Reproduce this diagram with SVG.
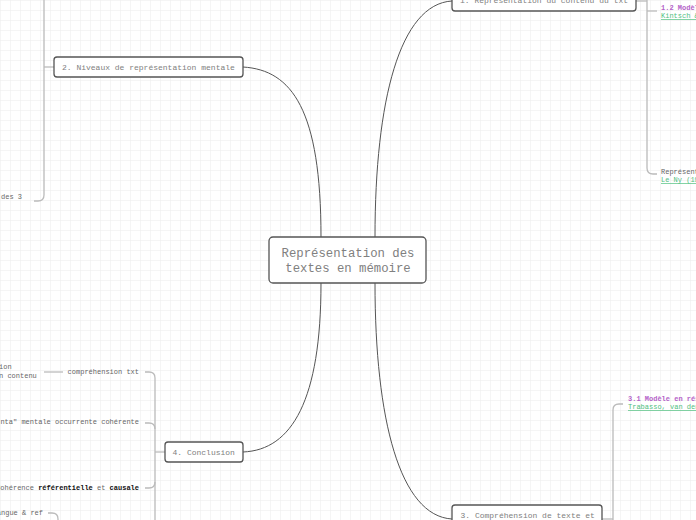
<svg xmlns="http://www.w3.org/2000/svg" width="696" height="520" viewBox="0 0 696 520">
<defs>
<pattern id="grid" width="10" height="10" patternUnits="userSpaceOnUse">
<path d="M10 0 L0 0 0 10" fill="none" stroke="#ececec" stroke-width="1"/>
</pattern>
<style>
.node rect{fill:#fff;stroke:#555;stroke-width:1.3}
.ntext{font-family:"Liberation Mono","DejaVu Sans Mono",monospace;fill:#808080}
.ctext{font-family:"Liberation Mono","DejaVu Sans Mono",monospace;font-size:7px;fill:#666}
.conn{fill:none;stroke:#555;stroke-width:1}
.br{fill:none;stroke:#bbb;stroke-width:1.3}
.purple{fill:#b462c8;font-weight:bold}
.green{fill:#4fc07f;text-decoration:underline}
.b{font-weight:bold;fill:#111}
</style>
</defs>
<rect width="696" height="520" fill="#fff"/>
<rect width="696" height="520" fill="url(#grid)"/>

<g id="connectors">
<path class="conn" d="M321,237 C321,110 292,70 243,67"/>
<path class="conn" d="M375,237 C375,100 400,4 452,1"/>
<path class="conn" d="M375,283 C375,420 400,516 452,519"/>
<path class="conn" d="M321,283 C321,400 292,450 243,452"/>
<path class="br" d="M54,67 H44"/>
<path class="br" d="M44,-5 V195 Q44,201 38,201 H34"/>
<path class="br" d="M636,1 H647"/>
<path class="br" d="M647,-5 V168 Q647,174 653,174 H657"/>
<path class="br" d="M647,11 H657"/>
<path class="br" d="M602,519 H613"/>
<path class="br" d="M613,525 V410 Q613,404 619,404 H623"/>
<path class="br" d="M165,452 H155"/>
<path class="br" d="M145,372 H149 Q155,372 155,378 V525"/>
<path class="br" d="M145,423 H149 Q155,423 155,429"/>
<path class="br" d="M145,488 H149 Q155,488 155,482"/>
<path class="br" d="M44,372 H63"/>
<path class="br" d="M48,513 H52 Q58,513 58,519 V525"/>
</g>

<g id="center" class="node">
<rect x="269" y="237" width="157" height="46" rx="4"/>
<text class="ntext" x="348" y="257" font-size="12.3" text-anchor="middle">Représentation des</text>
<text class="ntext" x="348" y="272" font-size="12.3" text-anchor="middle">textes en mémoire</text>
</g>

<g id="node1" class="node">
<rect x="452" y="-10" width="184" height="21" rx="3"/>
<text class="ntext" x="460" y="3" font-size="8">1. Représentation du contenu du txt</text>
</g>
<g id="node1-children">
<text class="ctext purple" x="661" y="10">1.2 Modèle</text>
<text class="ctext green" x="661" y="18">Kintsch &amp;</text>
<text class="ctext" x="661" y="174">Représentation</text>
<text class="ctext green" x="661" y="182">Le Ny (19</text>
</g>

<g id="node2" class="node">
<rect x="54" y="57" width="189" height="20" rx="3"/>
<text class="ntext" x="62" y="70" font-size="8">2. Niveaux de représentation mentale</text>
</g>
<g id="node2-children">
<text class="ctext" x="1" y="199">des 3</text>
</g>

<g id="node3" class="node">
<rect x="452" y="505" width="150" height="30" rx="3"/>
<text class="ntext" x="460.5" y="518" font-size="8">3. Compréhension de texte et</text>
</g>
<g id="node3-children">
<text class="ctext purple" x="628" y="401">3.1 Modèle en réseau</text>
<text class="ctext green" x="628" y="409">Trabasso, van den Broek</text>
</g>

<g id="node4" class="node">
<rect x="165" y="442" width="78" height="20" rx="3"/>
<text class="ntext" x="172.5" y="455" font-size="8">4. Conclusion</text>
</g>
<g id="node4-children">
<text class="ctext" x="139" y="374" text-anchor="end">compréhension txt</text>
<text class="ctext" x="-1" y="369">ion</text>
<text class="ctext" x="-1" y="378">n contenu</text>
<text class="ctext" x="139" y="424" text-anchor="end">nta" mentale occurrente cohérente</text>
<text class="ctext" x="139" y="490" text-anchor="end">Cohérence <tspan class="b">référentielle</tspan> et <tspan class="b">causale</tspan></text>
<text class="ctext" x="43" y="515" text-anchor="end">angue &amp; ref</text>
</g>
</svg>
